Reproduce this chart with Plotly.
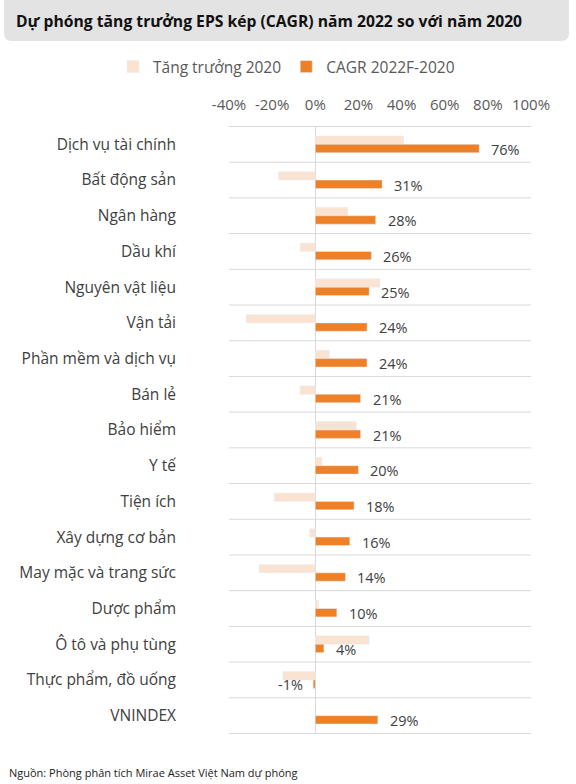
import plotly.graph_objects as go

# ---- data ----
categories = ["Dịch vụ tài chính", "Bất động sản", "Ngân hàng", "Dầu khí",
              "Nguyên vật liệu", "Vận tải", "Phần mềm và dịch vụ", "Bán lẻ",
              "Bảo hiểm", "Y tế", "Tiện ích", "Xây dựng cơ bản",
              "May mặc và trang sức", "Dược phẩm", "Ô tô và phụ tùng",
              "Thực phẩm, đồ uống", "VNINDEX"]
growth_2020 = [41, -17, 15, -7, 30, -32, 6.5, -7, 19, 3, -19, -2.6,
               -26, 1.5, 25, -15, None]
cagr_2022 = [76, 31, 28, 26, 25, 24, 24, 21, 21, 20, 18, 16, 14, 10, 4, -1, 29]
x_ticks = [-40, -20, 0, 20, 40, 60, 80, 100]
series_names = ["Tăng trưởng 2020", "CAGR 2022F-2020"]

# ---- layout constants ----
W, H = 576, 784
ML, MR, MT, MB = 229, 45, 126, 50
PW, PH = W - ML - MR, H - MT - MB
FONT = "Open Sans"
LIGHT = "#FBE3D2"
ORANGE = "#EE8027"
TXT = "#404040"
GRID = "#d9d9d9"


def px_x(px):
    return (px - ML) / PW


def px_y(py):
    return (H - MB - py) / PH


fig = go.Figure()
fig.add_trace(go.Bar(y=categories, x=growth_2020, orientation="h",
                     name=series_names[0], marker_color=LIGHT))
fig.add_trace(go.Bar(y=categories, x=cagr_2022, orientation="h",
                     name=series_names[1], marker_color=ORANGE))

# value labels for CAGR series
for cat, v in zip(categories, cagr_2022):
    fig.add_annotation(x=v, y=cat, xref="x", yref="y", text=f"{v:.0f}%",
                       showarrow=False, xanchor="left" if v >= 0 else "right",
                       xshift=10 if v >= 0 else -8, yshift=-5,
                       font=dict(family=FONT, size=14.5, color=TXT))

# category separator lines
shapes = []
for k in range(len(categories) + 1):
    shapes.append(dict(type="line", xref="paper", yref="y", x0=0, x1=1,
                       y0=k - 0.5, y1=k - 0.5, line=dict(color=GRID, width=1),
                       layer="below"))

# title banner (rounded bottom corners)
x0, x1 = px_x(4), px_x(569)
yt, yb = px_y(-12), px_y(41)
rx, ry = 8 / PW, 8 / PH
path = (f"M{x0},{yt} L{x1},{yt} L{x1},{yb + ry} Q{x1},{yb} {x1 - rx},{yb} "
        f"L{x0 + rx},{yb} Q{x0},{yb} {x0},{yb + ry} Z")
shapes.append(dict(type="path", xref="paper", yref="paper", path=path,
                   fillcolor="#e3e3e3", line=dict(width=0), layer="below"))

fig.add_annotation(xref="paper", yref="paper", x=px_x(14), y=px_y(21),
                   xanchor="left", yanchor="middle", showarrow=False,
                   text="<b>Dự phóng tăng trưởng EPS kép (CAGR) năm 2022 so với năm 2020</b>",
                   font=dict(family=FONT, size=15.7, color="#111111"))

fig.add_annotation(xref="paper", yref="paper", x=px_x(7), y=px_y(772),
                   xanchor="left", yanchor="middle", showarrow=False,
                   text="Nguồn: Phòng phân tích Mirae Asset Việt Nam dự phóng",
                   font=dict(family=FONT, size=11, color="#222222"))

fig.update_layout(
    width=W, height=H,
    margin=dict(l=ML, r=MR, t=MT, b=MB),
    paper_bgcolor="white", plot_bgcolor="white",
    barmode="group", bargap=0.53, bargroupgap=0,
    shapes=shapes,
    font=dict(family=FONT, color=TXT),
    showlegend=True,
    legend=dict(orientation="h", xref="paper", yref="paper",
                x=px_x(113), xanchor="left", y=px_y(67), yanchor="middle",
                font=dict(family=FONT, size=15.5, color="#595959"),
                itemclick=False, itemdoubleclick=False,
                traceorder="normal"),
    xaxis=dict(range=[x_ticks[0], x_ticks[-1]], side="top", tickvals=x_ticks,
               ticktext=[f"{t}%" for t in x_ticks], showgrid=False,
               zeroline=True, zerolinecolor=GRID, zerolinewidth=1,
               showline=False, ticks="", ticklabelstandoff=12,
               tickfont=dict(family=FONT, size=15, color="#595959")),
    yaxis=dict(autorange="reversed", showgrid=False, zeroline=False,
               showline=False, ticks="", ticklabelstandoff=52,
               tickfont=dict(family=FONT, size=15.5, color=TXT)),
)

fig.write_html("out.html", config={"displayModeBar": False},
               post_script="document.body.style.margin='0';"
                           "document.body.style.overflow='hidden';")
